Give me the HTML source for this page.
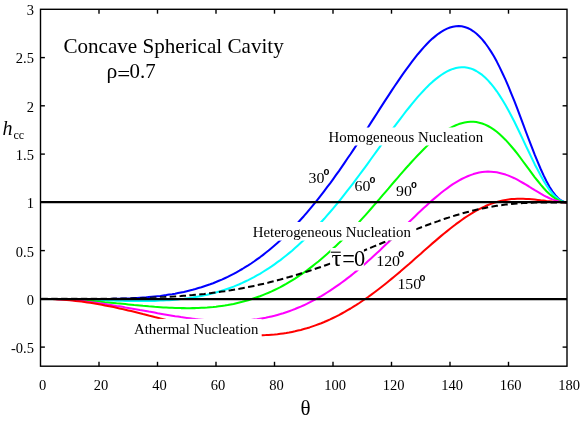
<!DOCTYPE html>
<html><head><meta charset="utf-8"><title>Concave Spherical Cavity</title>
<style>
html,body{margin:0;padding:0;background:#fff;}
body{width:581px;height:421px;overflow:hidden;font-family:"Liberation Serif",serif;}
svg{display:block;will-change:transform;}
text{font-family:"Liberation Serif",serif;fill:#000;}
.c{fill:none;stroke-width:2.05;stroke-linejoin:round;stroke-linecap:butt;}
.t{font-size:14.5px;}
.l{font-size:15px;}
</style></head><body>
<svg width="581" height="421" viewBox="0 0 581 421">
<rect x="0" y="0" width="581" height="421" fill="#fff"/>

<path class="c" stroke="#0000ff" d="M40.5,298.9 L43.4,298.9 L46.4,298.9 L49.3,298.9 L52.2,298.9 L55.1,298.9 L58.0,298.9 L61.0,298.9 L63.9,298.9 L66.8,298.9 L69.8,298.9 L72.7,298.9 L75.6,299.0 L78.5,299.0 L81.5,299.0 L84.4,299.0 L87.3,299.0 L90.2,299.0 L93.2,299.0 L96.1,299.0 L99.0,299.0 L101.9,299.0 L104.8,298.9 L107.8,298.9 L110.7,298.9 L113.6,298.8 L116.5,298.8 L119.5,298.7 L122.4,298.6 L125.3,298.5 L128.2,298.4 L131.2,298.3 L134.1,298.1 L137.0,298.0 L139.9,297.8 L142.9,297.6 L145.8,297.4 L148.7,297.1 L151.7,296.8 L154.6,296.5 L157.5,296.2 L160.4,295.9 L163.3,295.5 L166.3,295.1 L169.2,294.6 L172.1,294.2 L175.1,293.7 L178.0,293.1 L180.9,292.5 L183.8,291.9 L186.8,291.2 L189.7,290.5 L192.6,289.8 L195.5,289.0 L198.4,288.1 L201.4,287.3 L204.3,286.3 L207.2,285.3 L210.2,284.3 L213.1,283.2 L216.0,282.0 L218.9,280.8 L221.8,279.6 L224.8,278.2 L227.7,276.9 L230.6,275.4 L233.6,273.9 L236.5,272.3 L239.4,270.7 L242.3,269.0 L245.2,267.2 L248.2,265.4 L251.1,263.5 L254.0,261.5 L256.9,259.4 L259.9,257.3 L262.8,255.1 L265.7,252.8 L268.6,250.5 L271.6,248.0 L274.5,245.5 L277.4,243.0 L280.4,240.3 L283.3,237.6 L286.2,234.8 L289.1,231.9 L292.1,228.9 L295.0,225.8 L297.9,222.7 L300.8,219.5 L303.8,216.2 L306.7,212.8 L309.6,209.4 L312.5,205.9 L315.4,202.3 L318.4,198.6 L321.3,194.9 L324.2,191.1 L327.1,187.2 L330.1,183.3 L333.0,179.3 L335.9,175.2 L338.9,171.1 L341.8,166.9 L344.7,162.6 L347.6,158.3 L350.6,154.0 L353.5,149.6 L356.4,145.2 L359.3,140.7 L362.2,136.2 L365.2,131.7 L368.1,127.2 L371.0,122.6 L373.9,118.1 L376.9,113.5 L379.8,108.9 L382.7,104.4 L385.6,99.9 L388.6,95.4 L391.5,90.9 L394.4,86.5 L397.4,82.2 L400.3,77.9 L403.2,73.7 L406.1,69.6 L409.1,65.6 L412.0,61.7 L414.9,57.9 L417.8,54.2 L420.8,50.8 L423.7,47.4 L426.6,44.3 L429.5,41.3 L432.4,38.6 L435.4,36.1 L438.3,33.8 L441.2,31.8 L444.1,30.1 L447.1,28.6 L450.0,27.5 L452.9,26.7 L455.9,26.2 L458.8,26.1 L461.7,26.3 L464.6,27.0 L467.6,28.0 L470.5,29.4 L473.4,31.3 L476.3,33.5 L479.2,36.2 L482.2,39.4 L485.1,43.0 L488.0,47.0 L490.9,51.4 L493.9,56.3 L496.8,61.6 L499.7,67.4 L502.6,73.5 L505.6,79.9 L508.5,86.7 L511.4,93.8 L514.4,101.1 L517.3,108.7 L520.2,116.3 L523.1,124.1 L526.0,132.0 L529.0,139.8 L531.9,147.4 L534.8,154.9 L537.8,162.1 L540.7,169.0 L543.6,175.4 L546.5,181.3 L549.5,186.7 L552.4,191.3 L555.3,195.2 L558.2,198.3 L561.1,200.5 L564.1,201.9 L567.0,202.4"/>
<path class="c" stroke="#00ffff" d="M40.5,298.9 L43.4,298.9 L46.4,298.9 L49.3,298.9 L52.2,298.9 L55.1,298.9 L58.0,299.0 L61.0,299.0 L63.9,299.1 L66.8,299.1 L69.8,299.2 L72.7,299.3 L75.6,299.4 L78.5,299.4 L81.5,299.5 L84.4,299.6 L87.3,299.7 L90.2,299.8 L93.2,299.9 L96.1,300.0 L99.0,300.1 L101.9,300.2 L104.8,300.3 L107.8,300.4 L110.7,300.5 L113.6,300.6 L116.5,300.7 L119.5,300.7 L122.4,300.8 L125.3,300.9 L128.2,300.9 L131.2,301.0 L134.1,301.0 L137.0,301.0 L139.9,301.0 L142.9,301.0 L145.8,301.0 L148.7,301.0 L151.7,300.9 L154.6,300.9 L157.5,300.8 L160.4,300.6 L163.3,300.5 L166.3,300.3 L169.2,300.2 L172.1,299.9 L175.1,299.7 L178.0,299.4 L180.9,299.1 L183.8,298.8 L186.8,298.4 L189.7,298.0 L192.6,297.5 L195.5,297.0 L198.4,296.5 L201.4,296.0 L204.3,295.3 L207.2,294.7 L210.2,294.0 L213.1,293.2 L216.0,292.4 L218.9,291.6 L221.8,290.7 L224.8,289.7 L227.7,288.7 L230.6,287.7 L233.6,286.6 L236.5,285.4 L239.4,284.2 L242.3,282.9 L245.2,281.5 L248.2,280.1 L251.1,278.6 L254.0,277.1 L256.9,275.4 L259.9,273.8 L262.8,272.0 L265.7,270.2 L268.6,268.3 L271.6,266.4 L274.5,264.3 L277.4,262.2 L280.4,260.1 L283.3,257.8 L286.2,255.5 L289.1,253.1 L292.1,250.7 L295.0,248.1 L297.9,245.5 L300.8,242.8 L303.8,240.1 L306.7,237.2 L309.6,234.3 L312.5,231.4 L315.4,228.3 L318.4,225.2 L321.3,222.0 L324.2,218.8 L327.1,215.4 L330.1,212.0 L333.0,208.6 L335.9,205.1 L338.9,201.5 L341.8,197.9 L344.7,194.2 L347.6,190.4 L350.6,186.6 L353.5,182.8 L356.4,178.9 L359.3,175.0 L362.2,171.1 L365.2,167.1 L368.1,163.1 L371.0,159.0 L373.9,155.0 L376.9,150.9 L379.8,146.8 L382.7,142.8 L385.6,138.7 L388.6,134.7 L391.5,130.7 L394.4,126.7 L397.4,122.7 L400.3,118.8 L403.2,115.0 L406.1,111.2 L409.1,107.5 L412.0,103.9 L414.9,100.3 L417.8,96.9 L420.8,93.6 L423.7,90.5 L426.6,87.4 L429.5,84.6 L432.4,81.9 L435.4,79.4 L438.3,77.1 L441.2,75.0 L444.1,73.1 L447.1,71.4 L450.0,70.0 L452.9,68.9 L455.9,68.1 L458.8,67.5 L461.7,67.3 L464.6,67.3 L467.6,67.7 L470.5,68.4 L473.4,69.5 L476.3,71.0 L479.2,72.8 L482.2,74.9 L485.1,77.5 L488.0,80.4 L490.9,83.7 L493.9,87.3 L496.8,91.3 L499.7,95.6 L502.6,100.3 L505.6,105.3 L508.5,110.5 L511.4,116.0 L514.4,121.8 L517.3,127.7 L520.2,133.8 L523.1,139.9 L526.0,146.1 L529.0,152.3 L531.9,158.4 L534.8,164.4 L537.8,170.1 L540.7,175.6 L543.6,180.8 L546.5,185.5 L549.5,189.8 L552.4,193.5 L555.3,196.6 L558.2,199.1 L561.1,200.9 L564.1,202.0 L567.0,202.4"/>
<path class="c" stroke="#00ff00" d="M40.5,298.9 L43.4,298.9 L46.4,298.9 L49.3,298.9 L52.2,299.0 L55.1,299.0 L58.0,299.1 L61.0,299.2 L63.9,299.3 L66.8,299.5 L69.8,299.6 L72.7,299.7 L75.6,299.9 L78.5,300.1 L81.5,300.3 L84.4,300.5 L87.3,300.7 L90.2,300.9 L93.2,301.1 L96.1,301.4 L99.0,301.6 L101.9,301.9 L104.8,302.2 L107.8,302.4 L110.7,302.7 L113.6,303.0 L116.5,303.3 L119.5,303.5 L122.4,303.8 L125.3,304.1 L128.2,304.4 L131.2,304.7 L134.1,305.0 L137.0,305.2 L139.9,305.5 L142.9,305.8 L145.8,306.0 L148.7,306.3 L151.7,306.5 L154.6,306.8 L157.5,307.0 L160.4,307.2 L163.3,307.4 L166.3,307.5 L169.2,307.7 L172.1,307.8 L175.1,307.9 L178.0,308.0 L180.9,308.1 L183.8,308.1 L186.8,308.2 L189.7,308.2 L192.6,308.1 L195.5,308.1 L198.4,308.0 L201.4,307.8 L204.3,307.7 L207.2,307.5 L210.2,307.2 L213.1,307.0 L216.0,306.7 L218.9,306.3 L221.8,305.9 L224.8,305.5 L227.7,305.0 L230.6,304.4 L233.6,303.9 L236.5,303.2 L239.4,302.5 L242.3,301.8 L245.2,301.0 L248.2,300.2 L251.1,299.3 L254.0,298.3 L256.9,297.3 L259.9,296.3 L262.8,295.1 L265.7,293.9 L268.6,292.7 L271.6,291.4 L274.5,290.0 L277.4,288.6 L280.4,287.1 L283.3,285.5 L286.2,283.9 L289.1,282.2 L292.1,280.4 L295.0,278.6 L297.9,276.7 L300.8,274.7 L303.8,272.7 L306.7,270.6 L309.6,268.4 L312.5,266.1 L315.4,263.8 L318.4,261.5 L321.3,259.0 L324.2,256.5 L327.1,254.0 L330.1,251.3 L333.0,248.6 L335.9,245.9 L338.9,243.1 L341.8,240.2 L344.7,237.3 L347.6,234.3 L350.6,231.3 L353.5,228.2 L356.4,225.0 L359.3,221.9 L362.2,218.6 L365.2,215.4 L368.1,212.1 L371.0,208.8 L373.9,205.4 L376.9,202.0 L379.8,198.6 L382.7,195.2 L385.6,191.8 L388.6,188.4 L391.5,184.9 L394.4,181.5 L397.4,178.1 L400.3,174.7 L403.2,171.4 L406.1,168.0 L409.1,164.8 L412.0,161.5 L414.9,158.4 L417.8,155.2 L420.8,152.2 L423.7,149.3 L426.6,146.4 L429.5,143.6 L432.4,141.0 L435.4,138.5 L438.3,136.1 L441.2,133.9 L444.1,131.8 L447.1,129.9 L450.0,128.1 L452.9,126.6 L455.9,125.2 L458.8,124.1 L461.7,123.2 L464.6,122.5 L467.6,122.0 L470.5,121.8 L473.4,121.8 L476.3,122.1 L479.2,122.7 L482.2,123.5 L485.1,124.6 L488.0,126.0 L490.9,127.7 L493.9,129.6 L496.8,131.8 L499.7,134.3 L502.6,137.0 L505.6,139.9 L508.5,143.1 L511.4,146.5 L514.4,150.0 L517.3,153.7 L520.2,157.5 L523.1,161.5 L526.0,165.4 L529.0,169.4 L531.9,173.4 L534.8,177.3 L537.8,181.0 L540.7,184.6 L543.6,188.0 L546.5,191.2 L549.5,194.0 L552.4,196.4 L555.3,198.5 L558.2,200.2 L561.1,201.4 L564.1,202.1 L567.0,202.4"/>
<path class="c" stroke="#ff00ff" d="M40.5,298.9 L43.4,298.9 L46.4,298.9 L49.3,299.0 L52.2,299.0 L55.1,299.1 L58.0,299.3 L61.0,299.4 L63.9,299.6 L66.8,299.8 L69.8,300.0 L72.7,300.2 L75.6,300.5 L78.5,300.7 L81.5,301.0 L84.4,301.3 L87.3,301.7 L90.2,302.0 L93.2,302.4 L96.1,302.8 L99.0,303.2 L101.9,303.6 L104.8,304.0 L107.8,304.5 L110.7,304.9 L113.6,305.4 L116.5,305.9 L119.5,306.3 L122.4,306.8 L125.3,307.4 L128.2,307.9 L131.2,308.4 L134.1,308.9 L137.0,309.4 L139.9,310.0 L142.9,310.5 L145.8,311.0 L148.7,311.6 L151.7,312.1 L154.6,312.6 L157.5,313.2 L160.4,313.7 L163.3,314.2 L166.3,314.7 L169.2,315.2 L172.1,315.7 L175.1,316.2 L178.0,316.6 L180.9,317.1 L183.8,317.5 L186.8,317.9 L189.7,318.3 L192.6,318.7 L195.5,319.1 L198.4,319.4 L201.4,319.7 L204.3,320.0 L207.2,320.3 L210.2,320.5 L213.1,320.7 L216.0,320.9 L218.9,321.0 L221.8,321.1 L224.8,321.2 L227.7,321.2 L230.6,321.2 L233.6,321.1 L236.5,321.1 L239.4,320.9 L242.3,320.8 L245.2,320.5 L248.2,320.3 L251.1,320.0 L254.0,319.6 L256.9,319.2 L259.9,318.7 L262.8,318.2 L265.7,317.7 L268.6,317.1 L271.6,316.4 L274.5,315.7 L277.4,314.9 L280.4,314.1 L283.3,313.2 L286.2,312.2 L289.1,311.2 L292.1,310.1 L295.0,309.0 L297.9,307.8 L300.8,306.6 L303.8,305.3 L306.7,303.9 L309.6,302.4 L312.5,300.9 L315.4,299.4 L318.4,297.7 L321.3,296.1 L324.2,294.3 L327.1,292.5 L330.1,290.6 L333.0,288.7 L335.9,286.7 L338.9,284.6 L341.8,282.5 L344.7,280.4 L347.6,278.1 L350.6,275.9 L353.5,273.5 L356.4,271.1 L359.3,268.7 L362.2,266.2 L365.2,263.7 L368.1,261.1 L371.0,258.5 L373.9,255.8 L376.9,253.1 L379.8,250.4 L382.7,247.6 L385.6,244.8 L388.6,242.0 L391.5,239.2 L394.4,236.4 L397.4,233.5 L400.3,230.6 L403.2,227.8 L406.1,224.9 L409.1,222.0 L412.0,219.2 L414.9,216.4 L417.8,213.6 L420.8,210.8 L423.7,208.0 L426.6,205.4 L429.5,202.7 L432.4,200.1 L435.4,197.6 L438.3,195.2 L441.2,192.8 L444.1,190.5 L447.1,188.3 L450.0,186.2 L452.9,184.2 L455.9,182.4 L458.8,180.6 L461.7,179.0 L464.6,177.6 L467.6,176.3 L470.5,175.1 L473.4,174.1 L476.3,173.3 L479.2,172.6 L482.2,172.1 L485.1,171.8 L488.0,171.6 L490.9,171.7 L493.9,171.9 L496.8,172.3 L499.7,172.9 L502.6,173.7 L505.6,174.6 L508.5,175.6 L511.4,176.9 L514.4,178.2 L517.3,179.7 L520.2,181.3 L523.1,183.0 L526.0,184.7 L529.0,186.5 L531.9,188.4 L534.8,190.2 L537.8,191.9 L540.7,193.7 L543.6,195.3 L546.5,196.8 L549.5,198.2 L552.4,199.4 L555.3,200.4 L558.2,201.3 L561.1,201.9 L564.1,202.2 L567.0,202.4"/>
<path class="c" stroke="#ff0000" d="M40.5,298.9 L43.4,298.9 L46.4,298.9 L49.3,299.0 L52.2,299.1 L55.1,299.2 L58.0,299.4 L61.0,299.5 L63.9,299.8 L66.8,300.0 L69.8,300.3 L72.7,300.5 L75.6,300.9 L78.5,301.2 L81.5,301.6 L84.4,302.0 L87.3,302.4 L90.2,302.8 L93.2,303.3 L96.1,303.8 L99.0,304.3 L101.9,304.8 L104.8,305.4 L107.8,305.9 L110.7,306.5 L113.6,307.1 L116.5,307.8 L119.5,308.4 L122.4,309.1 L125.3,309.7 L128.2,310.4 L131.2,311.1 L134.1,311.8 L137.0,312.5 L139.9,313.2 L142.9,314.0 L145.8,314.7 L148.7,315.5 L151.7,316.2 L154.6,317.0 L157.5,317.7 L160.4,318.5 L163.3,319.2 L166.3,320.0 L169.2,320.7 L172.1,321.5 L175.1,322.2 L178.0,323.0 L180.9,323.7 L183.8,324.4 L186.8,325.1 L189.7,325.8 L192.6,326.5 L195.5,327.1 L198.4,327.8 L201.4,328.4 L204.3,329.0 L207.2,329.6 L210.2,330.2 L213.1,330.7 L216.0,331.3 L218.9,331.8 L221.8,332.2 L224.8,332.7 L227.7,333.1 L230.6,333.4 L233.6,333.8 L236.5,334.1 L239.4,334.4 L242.3,334.6 L245.2,334.8 L248.2,335.0 L251.1,335.1 L254.0,335.2 L256.9,335.2 L259.9,335.2 L262.8,335.2 L265.7,335.1 L268.6,334.9 L271.6,334.7 L274.5,334.5 L277.4,334.2 L280.4,333.8 L283.3,333.4 L286.2,333.0 L289.1,332.5 L292.1,331.9 L295.0,331.3 L297.9,330.6 L300.8,329.9 L303.8,329.1 L306.7,328.3 L309.6,327.4 L312.5,326.4 L315.4,325.4 L318.4,324.3 L321.3,323.2 L324.2,322.0 L327.1,320.7 L330.1,319.4 L333.0,318.0 L335.9,316.6 L338.9,315.1 L341.8,313.5 L344.7,311.9 L347.6,310.2 L350.6,308.5 L353.5,306.7 L356.4,304.9 L359.3,303.0 L362.2,301.0 L365.2,299.0 L368.1,297.0 L371.0,294.9 L373.9,292.7 L376.9,290.5 L379.8,288.3 L382.7,286.0 L385.6,283.7 L388.6,281.3 L391.5,278.9 L394.4,276.5 L397.4,274.0 L400.3,271.6 L403.2,269.0 L406.1,266.5 L409.1,264.0 L412.0,261.4 L414.9,258.8 L417.8,256.2 L420.8,253.7 L423.7,251.1 L426.6,248.5 L429.5,245.9 L432.4,243.4 L435.4,240.9 L438.3,238.4 L441.2,235.9 L444.1,233.5 L447.1,231.1 L450.0,228.7 L452.9,226.5 L455.9,224.2 L458.8,222.1 L461.7,220.0 L464.6,217.9 L467.6,216.0 L470.5,214.1 L473.4,212.4 L476.3,210.7 L479.2,209.1 L482.2,207.7 L485.1,206.3 L488.0,205.0 L490.9,203.9 L493.9,202.9 L496.8,202.0 L499.7,201.2 L502.6,200.5 L505.6,199.9 L508.5,199.5 L511.4,199.1 L514.4,198.9 L517.3,198.8 L520.2,198.7 L523.1,198.8 L526.0,198.9 L529.0,199.1 L531.9,199.3 L534.8,199.6 L537.8,199.9 L540.7,200.3 L543.6,200.6 L546.5,201.0 L549.5,201.3 L552.4,201.6 L555.3,201.8 L558.2,202.1 L561.1,202.2 L564.1,202.3 L567.0,202.4"/>
<g stroke="#000" stroke-width="2.1" fill="none">
<line x1="40.5" y1="299.15000000000003" x2="567.0" y2="299.15000000000003"/>
<line x1="40.5" y1="202.15" x2="567.0" y2="202.15"/>
</g>
<clipPath id="cd"><rect x="0" y="0" width="581" height="297.8"/></clipPath>
<path class="c" clip-path="url(#cd)" stroke="#000" stroke-width="2.1" stroke-dasharray="6.5 3.38" stroke-dashoffset="-0.8" d="M40.5,298.9 L43.4,298.8 L46.4,298.8 L49.3,298.8 L52.2,298.8 L55.1,298.8 L58.0,298.8 L61.0,298.8 L63.9,298.8 L66.8,298.8 L69.8,298.8 L72.7,298.8 L75.6,298.8 L78.5,298.8 L81.5,298.8 L84.4,298.8 L87.3,298.8 L90.2,298.8 L93.2,298.8 L96.1,298.8 L99.0,298.8 L101.9,298.7 L104.8,298.7 L107.8,298.7 L110.7,298.7 L113.6,298.6 L116.5,298.6 L119.5,298.6 L122.4,298.5 L125.3,298.5 L128.2,298.4 L131.2,298.3 L134.1,298.3 L137.0,298.2 L139.9,298.1 L142.9,298.0 L145.8,297.9 L148.7,297.8 L151.7,297.7 L154.6,297.6 L157.5,297.5 L160.4,297.3 L163.3,297.2 L166.3,297.0 L169.2,296.9 L172.1,296.7 L175.1,296.5 L178.0,296.3 L180.9,296.1 L183.8,295.8 L186.8,295.6 L189.7,295.3 L192.6,295.1 L195.5,294.8 L198.4,294.5 L201.4,294.2 L204.3,293.9 L207.2,293.5 L210.2,293.2 L213.1,292.8 L216.0,292.4 L218.9,292.0 L221.8,291.6 L224.8,291.2 L227.7,290.7 L230.6,290.3 L233.6,289.8 L236.5,289.3 L239.4,288.8 L242.3,288.2 L245.2,287.7 L248.2,287.1 L251.1,286.5 L254.0,285.9 L256.9,285.3 L259.9,284.6 L262.8,283.9 L265.7,283.3 L268.6,282.6 L271.6,281.8 L274.5,281.1 L277.4,280.3 L280.4,279.6 L283.3,278.8 L286.2,277.9 L289.1,277.1 L292.1,276.2 L295.0,275.4 L297.9,274.5 L300.8,273.6 L303.8,272.7 L306.7,271.7 L309.6,270.8 L312.5,269.8 L315.4,268.8 L318.4,267.8 L321.3,266.8 L324.2,265.7 L327.1,264.7 L330.1,263.6 L333.0,262.5 L335.9,261.5 L338.9,260.4 L341.8,259.2 L344.7,258.1 L347.6,257.0 L350.6,255.8 L353.5,254.7 L356.4,253.5 L359.3,252.4 L362.2,251.2 L365.2,250.0 L368.1,248.8 L371.0,247.6 L373.9,246.4 L376.9,245.2 L379.8,244.0 L382.7,242.8 L385.6,241.6 L388.6,240.4 L391.5,239.2 L394.4,238.0 L397.4,236.8 L400.3,235.6 L403.2,234.4 L406.1,233.3 L409.1,232.1 L412.0,230.9 L414.9,229.8 L417.8,228.6 L420.8,227.5 L423.7,226.4 L426.6,225.3 L429.5,224.2 L432.4,223.1 L435.4,222.1 L438.3,221.1 L441.2,220.0 L444.1,219.0 L447.1,218.1 L450.0,217.1 L452.9,216.2 L455.9,215.3 L458.8,214.4 L461.7,213.6 L464.6,212.8 L467.6,212.0 L470.5,211.2 L473.4,210.5 L476.3,209.8 L479.2,209.1 L482.2,208.5 L485.1,207.9 L488.0,207.3 L490.9,206.8 L493.9,206.3 L496.8,205.8 L499.7,205.4 L502.6,205.0 L505.6,204.6 L508.5,204.3 L511.4,204.0 L514.4,203.7 L517.3,203.5 L520.2,203.3 L523.1,203.1 L526.0,202.9 L529.0,202.8 L531.9,202.7 L534.8,202.6 L537.8,202.5 L540.7,202.5 L543.6,202.4 L546.5,202.4 L549.5,202.4 L552.4,202.4 L555.3,202.4 L558.2,202.4 L561.1,202.4 L564.1,202.4 L567.0,202.4"/>
<g stroke="#000" stroke-width="1.4" fill="none">
<rect x="40.5" y="9.3" width="526.5" height="356.9"/>
<line x1="99.0" y1="366.2" x2="99.0" y2="361.8"/>
<line x1="99.0" y1="9.3" x2="99.0" y2="13.700000000000001"/>
<line x1="157.5" y1="366.2" x2="157.5" y2="361.8"/>
<line x1="157.5" y1="9.3" x2="157.5" y2="13.700000000000001"/>
<line x1="216.0" y1="366.2" x2="216.0" y2="361.8"/>
<line x1="216.0" y1="9.3" x2="216.0" y2="13.700000000000001"/>
<line x1="274.5" y1="366.2" x2="274.5" y2="361.8"/>
<line x1="274.5" y1="9.3" x2="274.5" y2="13.700000000000001"/>
<line x1="333.0" y1="366.2" x2="333.0" y2="361.8"/>
<line x1="333.0" y1="9.3" x2="333.0" y2="13.700000000000001"/>
<line x1="391.5" y1="366.2" x2="391.5" y2="361.8"/>
<line x1="391.5" y1="9.3" x2="391.5" y2="13.700000000000001"/>
<line x1="450.0" y1="366.2" x2="450.0" y2="361.8"/>
<line x1="450.0" y1="9.3" x2="450.0" y2="13.700000000000001"/>
<line x1="508.5" y1="366.2" x2="508.5" y2="361.8"/>
<line x1="508.5" y1="9.3" x2="508.5" y2="13.700000000000001"/>
<line x1="40.5" y1="347.1" x2="44.9" y2="347.1"/>
<line x1="567.0" y1="347.1" x2="562.6" y2="347.1"/>
<line x1="40.5" y1="298.9" x2="44.9" y2="298.9"/>
<line x1="567.0" y1="298.9" x2="562.6" y2="298.9"/>
<line x1="40.5" y1="250.6" x2="44.9" y2="250.6"/>
<line x1="567.0" y1="250.6" x2="562.6" y2="250.6"/>
<line x1="40.5" y1="202.3" x2="44.9" y2="202.3"/>
<line x1="567.0" y1="202.3" x2="562.6" y2="202.3"/>
<line x1="40.5" y1="154.1" x2="44.9" y2="154.1"/>
<line x1="567.0" y1="154.1" x2="562.6" y2="154.1"/>
<line x1="40.5" y1="105.8" x2="44.9" y2="105.8"/>
<line x1="567.0" y1="105.8" x2="562.6" y2="105.8"/>
<line x1="40.5" y1="57.6" x2="44.9" y2="57.6"/>
<line x1="567.0" y1="57.6" x2="562.6" y2="57.6"/>
</g>
<text class="t" x="42.5" y="390" text-anchor="middle">0</text>
<text class="t" x="101.0" y="390" text-anchor="middle">20</text>
<text class="t" x="159.5" y="390" text-anchor="middle">40</text>
<text class="t" x="218.0" y="390" text-anchor="middle">60</text>
<text class="t" x="276.5" y="390" text-anchor="middle">80</text>
<text class="t" x="335.0" y="390" text-anchor="middle">100</text>
<text class="t" x="393.5" y="390" text-anchor="middle">120</text>
<text class="t" x="452.0" y="390" text-anchor="middle">140</text>
<text class="t" x="510.5" y="390" text-anchor="middle">160</text>
<text class="t" x="569.0" y="390" text-anchor="middle">180</text>
<text class="t" x="33.9" y="353.0" text-anchor="end">-0.5</text>
<text class="t" x="33.9" y="304.7" text-anchor="end">0</text>
<text class="t" x="33.9" y="256.5" text-anchor="end">0.5</text>
<text class="t" x="33.9" y="208.2" text-anchor="end">1</text>
<text class="t" x="33.9" y="159.9" text-anchor="end">1.5</text>
<text class="t" x="33.9" y="111.7" text-anchor="end">2</text>
<text class="t" x="33.9" y="63.4" text-anchor="end">2.5</text>
<text class="t" x="33.9" y="15.2" text-anchor="end">3</text>
<g fill="#fff" stroke="none">
<rect x="133" y="318.9" width="128.7" height="19"/>
<rect x="251" y="222" width="165.3" height="18.6"/>
<rect x="327" y="127.5" width="159" height="18"/>
<rect x="330.3" y="248" width="33.6" height="22.5"/>
</g>
<text transform="translate(63.4,53) scale(1.005,1)" font-size="21">Concave Spherical Cavity</text>
<text transform="translate(106.4,78) scale(1.03,1)" font-size="21">ρ</text>
<text transform="translate(117.2,80.6) scale(1.095,1)" font-size="21">=</text>
<text transform="translate(129.5,78) scale(0.995,1)" font-size="21">0.7</text>
<text transform="translate(328.6,141.8) scale(0.99,1)" font-size="15">Homogeneous Nucleation</text>
<text transform="translate(252.7,236.6) scale(0.992,1)" font-size="15">Heterogeneous Nucleation</text>
<text transform="translate(134.0,333.9) scale(0.986,1)" font-size="15">Athermal Nucleation</text>
<text transform="translate(331.4,266.3) scale(1.07,1)" font-size="23.3">τ</text>
<text transform="translate(342.3,268.05) scale(0.96,1.2)" font-size="23.3">=</text>
<text transform="translate(354.1,266.3) scale(0.96,1)" font-size="23.3">0</text>
<line x1="330.8" y1="252.2" x2="340.7" y2="252.2" stroke="#000" stroke-width="1.1"/>
<text transform="translate(308.5,183) scale(1.06,1)" font-size="15">30</text><text transform="translate(323.4,174.6) scale(0.85,1)" font-family="Liberation Sans" style="font-family:'Liberation Sans',sans-serif" font-weight="bold" font-size="11.4">o</text>
<text transform="translate(354.5,191) scale(1.06,1)" font-size="15">60</text><text transform="translate(369.4,182.6) scale(0.85,1)" font-family="Liberation Sans" style="font-family:'Liberation Sans',sans-serif" font-weight="bold" font-size="11.4">o</text>
<text transform="translate(396,196) scale(1.06,1)" font-size="15">90</text><text transform="translate(410.9,187.6) scale(0.85,1)" font-family="Liberation Sans" style="font-family:'Liberation Sans',sans-serif" font-weight="bold" font-size="11.4">o</text>
<text transform="translate(376.2,265.8) scale(1.06,1)" font-size="15">120</text><text transform="translate(398.2,257.40000000000003) scale(0.85,1)" font-family="Liberation Sans" style="font-family:'Liberation Sans',sans-serif" font-weight="bold" font-size="11.4">o</text>
<text transform="translate(397.4,289) scale(1.06,1)" font-size="15">150</text><text transform="translate(419.4,280.6) scale(0.85,1)" font-family="Liberation Sans" style="font-family:'Liberation Sans',sans-serif" font-weight="bold" font-size="11.4">o</text>
<text x="2.5" y="135" font-size="20" font-style="italic">h</text>
<text x="13.5" y="139" font-size="12">cc</text>
<text x="300.5" y="415" font-size="21">θ</text>
</svg></body></html>
